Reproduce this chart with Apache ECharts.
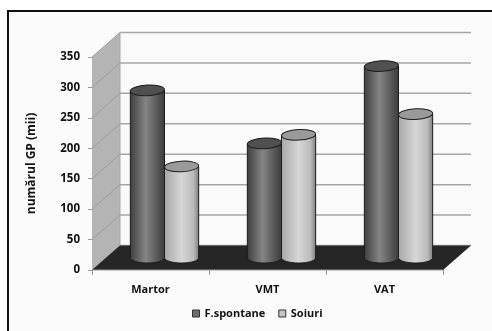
<!DOCTYPE html>
<html>
<head>
<meta charset="utf-8">
<style>html,body{margin:0;padding:0;background:#fff}#chart{width:492px;height:331px}</style>
<script src="https://cdn.jsdelivr.net/npm/echarts@6/dist/echarts.min.js"></script>
</head>
<body>
<div id="chart"></div>
<script>
const categories = ['Martor', 'VMT', 'VAT'];
const spontane = [275, 188, 315];
const soiuri = [150, 202, 236];
const yTicks = [0, 50, 100, 150, 200, 250, 300, 350];

const FONT = '"Open Sans", sans-serif';
// Oblique projection of the box: how far the back plane sits from the front plane.
const DEPTH_X = 28, DEPTH_Y = 24.5;
const CYL_RATIO = 0.292, CYL_RY = 5.3, CAP_TILT = 0.05;

function grad(stops) {
  return { type: 'linear', x: 0, y: 0, x2: 1, y2: 0,
    colorStops: stops.map(c => ({ offset: c[0], color: c[1] })) };
}
const darkBody = grad([[0, '#3f3f3f'], [0.45, '#858585'], [1, '#3c3c3c']]);
const lightBody = grad([[0, '#a8a8a8'], [0.5, '#d6d6d6'], [0.85, '#bababa'], [1, '#808080']]);

// The floor, side wall, back wall and their gridlines, all placed through the axes.
function renderBox(params, api) {
  const band = api.size([1, 0])[0];
  const left = api.coord([0, 0])[0] - band / 2;
  const right = api.coord([categories.length - 1, 0])[0] + band / 2;
  const base = api.coord([0, 0])[1], high = api.coord([0, 350])[1];
  const children = [
    { type: 'rect', shape: { x: left + DEPTH_X, y: high - DEPTH_Y, width: right - left, height: base - high },
      style: { fill: '#fafafa' } },
    { type: 'polygon', shape: { points: [[left, high], [left + DEPTH_X, high - DEPTH_Y], [left + DEPTH_X, base - DEPTH_Y], [left, base]] },
      style: { fill: '#b4b4b4' } }
  ];
  yTicks.forEach(t => {
    const y = api.coord([0, t])[1];
    children.push({ type: 'line', shape: { x1: left, y1: y, x2: left + DEPTH_X, y2: y - DEPTH_Y },
      style: { stroke: '#9c9c9c', lineWidth: 1 } });
    children.push({ type: 'line', shape: { x1: left + DEPTH_X, y1: y - DEPTH_Y, x2: right + DEPTH_X, y2: y - DEPTH_Y },
      style: { stroke: '#a6a6a6', lineWidth: 1.5 } });
  });
  children.push({ type: 'line', shape: { x1: left + DEPTH_X, y1: high - DEPTH_Y, x2: left + DEPTH_X, y2: base - DEPTH_Y },
    style: { stroke: '#a6a6a6', lineWidth: 1 } });
  children.push({ type: 'polygon', shape: { points: [[left, base], [left + DEPTH_X, base - DEPTH_Y], [right + DEPTH_X, base - DEPTH_Y], [right, base]] },
    style: { fill: '#262626' } });
  children.push({ type: 'line', shape: { x1: left, y1: base, x2: right, y2: base },
    style: { stroke: '#9a9a9a', lineWidth: 1 } });
  return { type: 'group', children };
}

// One upright cylinder standing halfway into the box; side is -1 or +1 around the band centre.
function cylinder(side, body, cap) {
  return function (params, api) {
    const cat = api.value(0);
    const baseP = api.coord([cat, 0]), topP = api.coord([cat, api.value(1)]);
    const w = api.size([1, 0])[0] * CYL_RATIO;
    const cx = baseP[0] + DEPTH_X / 2 + side * w / 2;
    const yBase = baseP[1] - DEPTH_Y / 2, yTop = topP[1] - DEPTH_Y / 2;
    const rx = w / 2;
    const edge = '#1c1c1c';
    return { type: 'group', children: [
      { type: 'ellipse', shape: { cx, cy: yBase, rx, ry: CYL_RY }, style: { fill: body, stroke: edge, lineWidth: 1 } },
      { type: 'rect', shape: { x: cx - rx, y: yTop, width: w, height: yBase - yTop }, style: { fill: body } },
      { type: 'line', shape: { x1: cx - rx, y1: yTop, x2: cx - rx, y2: yBase }, style: { stroke: edge, lineWidth: 1 } },
      { type: 'line', shape: { x1: cx + rx, y1: yTop, x2: cx + rx, y2: yBase }, style: { stroke: edge, lineWidth: 1 } },
      { type: 'ellipse', shape: { cx, cy: yTop, rx, ry: CYL_RY }, rotation: CAP_TILT, originX: cx, originY: yTop,
        style: { fill: cap, stroke: edge, lineWidth: 1 } }
    ] };
  };
}

const chart = echarts.init(document.getElementById('chart'), null, { renderer: 'canvas' });
chart.setOption({
  animation: false,
  textStyle: { fontFamily: FONT },
  graphic: [{ type: 'rect', z: -10, silent: true, shape: { x: 8, y: 11, width: 500, height: 340 },
    style: { fill: '#fbfbfb', stroke: '#111', lineWidth: 2 } }],
  grid: { left: 92, top: 57, width: 351, height: 213, containLabel: false },
  legend: {
    data: ['F.spontane', 'Soiuri'], left: 192, top: 308, padding: 0, itemWidth: 7, itemHeight: 7, itemGap: 13,
    icon: 'rect', selectedMode: false,
    itemStyle: { borderColor: '#333', borderWidth: 1 },
    textStyle: { fontFamily: FONT, fontWeight: 'bold', fontSize: 11, color: '#111' }
  },
  xAxis: {
    type: 'category', data: categories, boundaryGap: true,
    axisLine: { show: false },
    axisTick: { show: true, length: 5, alignWithLabel: false, lineStyle: { color: '#9a9a9a' } },
    axisLabel: { margin: 14, fontFamily: FONT, fontWeight: 'bold', fontSize: 11, color: '#111' }
  },
  yAxis: {
    type: 'value', min: 0, max: 350, interval: 50,
    name: 'numărul GP (mii)', nameLocation: 'middle', nameGap: 54, nameRotate: 90,
    nameTextStyle: { fontFamily: FONT, fontWeight: 'bold', fontSize: 12, color: '#111' },
    axisLine: { show: false },
    axisTick: { show: true, length: 4, lineStyle: { color: '#9a9a9a' } },
    splitLine: { show: false },
    axisLabel: { margin: 12, fontFamily: FONT, fontWeight: 'bold', fontSize: 11.5, color: '#111' }
  },
  series: [
    { type: 'custom', name: 'box', z: 1, silent: true, clip: false, data: [[0, 0]], renderItem: renderBox },
    { type: 'custom', name: 'F.spontane', z: 2, clip: false, itemStyle: { color: '#6e6e6e' },
      encode: { x: 0, y: 1 }, data: spontane.map((v, i) => [i, v]), renderItem: cylinder(-1, darkBody, '#505050') },
    { type: 'custom', name: 'Soiuri', z: 2, clip: false, itemStyle: { color: '#c4c4c4' },
      encode: { x: 0, y: 1 }, data: soiuri.map((v, i) => [i, v]), renderItem: cylinder(1, lightBody, '#9a9a9a') }
  ]
});
</script>
</body>
</html>
